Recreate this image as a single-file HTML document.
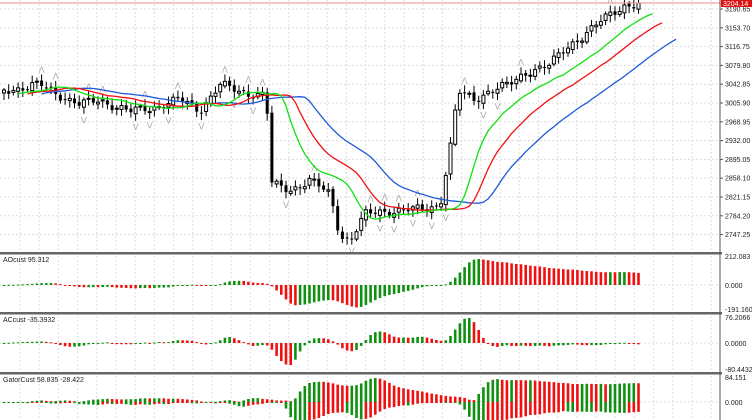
<!DOCTYPE html>
<html><head><meta charset="utf-8"><style>
html,body{margin:0;padding:0;background:#fff;}
svg{display:block;font-family:"Liberation Sans",sans-serif;}
</style></head><body>
<svg id="c" width="752" height="420" xmlns="http://www.w3.org/2000/svg"></svg>
<script>
(function(){
var S=document.getElementById('c'),h='';
function L(x1,y1,x2,y2,c,w,d){h+='<line x1="'+x1+'" y1="'+y1+'" x2="'+x2+'" y2="'+y2+'" stroke="'+c+'" stroke-width="'+(w||1)+'"'+(d?' stroke-dasharray="'+d+'"':'')+'/>';}
function R(x,y,w,hh,f,s){h+='<rect x="'+x+'" y="'+y+'" width="'+w+'" height="'+hh+'" fill="'+f+'"'+(s?' stroke="'+s+'" stroke-width="1"':'')+'/>';}
function T(x,y,t,a,c){h+='<text x="'+x+'" y="'+y+'" font-size="7" fill="'+(c||'#222')+'"'+(a?' text-anchor="'+a+'"':'')+'>'+t+'</text>';}
var PR=720,i;
for(var gx=20;gx<PR;gx+=19.2){L(gx,0,gx,420,'#ddd',1,'2,2');}
var labs=['3190.65','3153.70','3116.75','3079.80','3042.85','3005.90','2968.95','2932.00','2895.05','2858.10','2821.15','2784.20','2747.25'];
for(i=0;i<labs.length;i++){var yy=9+i*18.8;L(0,yy,PR,yy,'#ddd',1,'2,2');L(PR,yy,PR+3,yy,'#555');T(PR+5,yy+2.5,labs[i]);}
[285,343,402].forEach(function(y){L(0,y,PR,y,'#ddd',1,'2,2');});
var kp=[[4,90],[20,88],[40,85],[60,95],[80,105],[100,100],[130,112],[150,108],[180,100],[200,110],[220,85],[240,92],[266,95],[272,185],[290,190],[310,180],[330,195],[340,235],[350,240],[365,215],[380,212],[400,210],[420,210],[440,205],[450,150],[458,92],[475,100],[490,90],[510,85],[530,70],[550,65],[570,45],[590,30],[610,15],[625,5],[640,4]];
function interp(x){for(var k=0;k<kp.length-1;k++){if(x<=kp[k+1][0]){var t=(x-kp[k][0])/(kp[k+1][0]-kp[k][0]);return kp[k][1]+t*(kp[k+1][1]-kp[k][1]);}}return kp[kp.length-1][1];}
var N=136,X=[],C=[],O=[],Hi=[],Lo=[];
for(i=0;i<N;i++){var x=4+i*4.7;X.push(x);var n=Math.sin(i*1.7)*3+Math.sin(i*0.63)*2.5;C.push(interp(x)+n);}
for(i=0;i<N;i++){O.push(i?C[i-1]+Math.sin(i*2.3)*1.5:C[0]+3);var tp=Math.min(O[i],C[i]),bt=Math.max(O[i],C[i]);Hi.push(tp-2-Math.abs(Math.sin(i*1.3))*5);Lo.push(bt+2+Math.abs(Math.cos(i*0.9))*5);}
for(i=0;i<N;i++){var xx=X[i];L(xx,Hi[i],xx,Lo[i],'#000');var t=Math.min(O[i],C[i]),b=Math.max(O[i],C[i]);if(b-t<1)b=t+1;
 if(C[i]<O[i])R(xx-1.5,t,3,b-t,'#fff','#000');else R(xx-1.5,t,3,b-t,'#000');}
for(i=2;i<N-2;i++){if(Hi[i]<Hi[i-1]&&Hi[i]<Hi[i-2]&&Hi[i]<Hi[i+1]&&Hi[i]<Hi[i+2])T(X[i],Hi[i]-3,'&#8896;','middle','#999');
 if(Lo[i]>Lo[i-1]&&Lo[i]>Lo[i-2]&&Lo[i]>Lo[i+1]&&Lo[i]>Lo[i+2])T(X[i],Lo[i]+8,'&#8897;','middle','#999');}
var M=[];for(i=0;i<N;i++)M.push((Hi[i]+Lo[i])/2);
function smma(p){var r=[],s=0;for(var i=0;i<N;i++){if(i<p){s+=M[i];r.push(s/(i+1));}else r.push((r[i-1]*(p-1)+M[i])/p);}return r;}
var lips=smma(5),teeth=smma(8),jaw=smma(13);
function pl(a,sh,c){var p='';for(var i=0;i<N;i++){p+=(i?'L':'M')+(4+(i+sh)*4.7).toFixed(1)+' '+a[i].toFixed(1);}h+='<path d="'+p+'" fill="none" stroke="'+c+'" stroke-width="1.3"/>';}
pl(jaw,8,'#1f5bd8');pl(teeth,5,'#f01010');pl(lips,3,'#10e010');
L(0,3,PR,3,'#e88',1);R(PR+1,0,31,7,'#e01010');h+='<text x="'+(PR+3)+'" y="6" font-size="7" fill="#fff">3204.14</text>';
function sma(a,p,i){var s=0;for(var k=0;k<p;k++)s+=a[Math.max(0,i-k)];return s/p;}
var AO=[],AC=[];for(i=0;i<N;i++)AO.push(-(sma(M,5,i)-sma(M,34,i)));
for(i=0;i<N;i++)AC.push(AO[i]-sma(AO,5,i));
function bars(a,z,sc,cl){var m=0;a.forEach(function(v){m=Math.max(m,Math.abs(v));});for(var i=0;i<N;i++){var v=a[i]/m*sc;var c=cl?cl[i]:(i&&a[i]<a[i-1]?'#f01010':'#109010');R(X[i]-1.3,v>0?z-v:z,2.6,Math.max(1,Math.abs(v)),c);}}
bars(AO,285,26);bars(AC,343,25);
var GU=[],GD=[],cu=[],cd=[];for(i=0;i<N;i++){var j=jaw[Math.max(0,i-8)],t2=teeth[Math.max(0,i-5)],l=lips[Math.max(0,i-3)];GU.push(Math.abs(j-t2));GD.push(-Math.abs(t2-l));}
for(i=0;i<N;i++){cu.push(i&&GU[i]<GU[i-1]?'#f01010':'#109010');cd.push(i&&Math.abs(GD[i])<Math.abs(GD[i-1])?'#f01010':'#109010');}
bars(GU,402,24,cu);bars(GD,402,24,cd);
[253,313,373].forEach(function(y){R(0,y-1,PR+2,2.5,'#666');});
L(PR,0,PR,420,'#555');
T(3,262,'AOcust 95.312');T(3,322,'ACcust -35.3932');T(3,382,'GatorCust 58.835 -28.422');
T(PR+5,259,'212.083');T(PR+5,288,'0.000');T(PR+5,312,'-191.160');
T(PR+5,320,'76.2066');T(PR+5,346,'0.0000');T(PR+5,372,'-80.4432');
T(PR+5,380,'84.151');T(PR+5,405,'0.000');
S.innerHTML=h;
})();
</script>
</body></html>
